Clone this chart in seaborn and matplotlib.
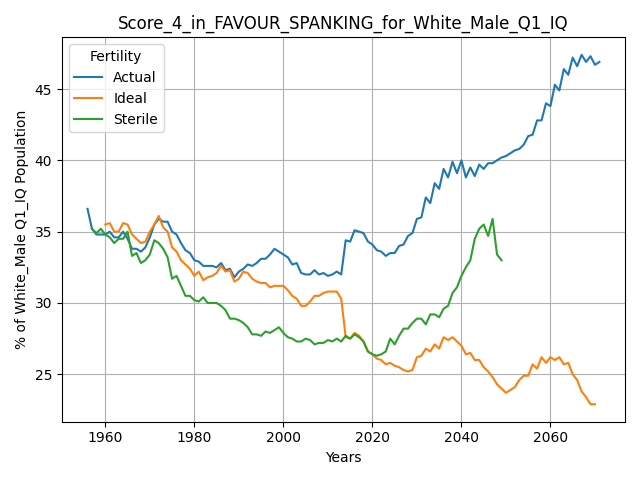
import pandas as pd
import matplotlib
matplotlib.use("Agg")
import matplotlib.pyplot as plt
import seaborn as sns

# Values
actual_start = 1956
actual = [36.6, 35.2, 34.8, 34.8, 34.8, 35.0, 34.6, 34.6, 35.0, 34.5,
          33.8, 33.8, 33.6, 33.9, 34.6, 35.5, 35.9, 35.7, 35.7, 35.0,
          34.8, 34.2, 33.7, 33.5, 33.0, 32.9, 32.6, 32.6, 32.6, 32.5,
          32.8, 32.3, 32.4, 31.8, 32.2, 32.4, 32.7, 32.6, 32.8, 33.1,
          33.1, 33.4, 33.8, 33.6, 33.4, 33.2, 32.7, 32.8, 32.1, 32.0,
          32.0, 32.3, 32.0, 32.1, 31.9, 32.0, 32.2, 32.0, 34.4, 34.3,
          35.1, 35.0, 34.9, 34.3, 34.1, 33.7, 33.6, 33.3, 33.5, 33.5,
          34.0, 34.1, 34.7, 34.9, 35.9, 36.0, 37.4, 37.0, 38.4, 38.0,
          39.4, 38.8, 39.9, 39.1, 40.0, 38.8, 39.5, 38.9, 39.7, 39.4,
          39.8, 39.8, 40.0, 40.2, 40.3, 40.5, 40.7, 40.8, 41.1, 41.7,
          41.8, 42.8, 42.8, 44.0, 43.8, 45.3, 44.9, 46.4, 46.0, 47.2,
          46.6, 47.4, 46.9, 47.3, 46.7, 46.9]

ideal_start = 1960
ideal = [35.5, 35.6, 35.0, 35.0, 35.6, 35.5, 34.8, 34.5, 34.2, 34.3,
         35.0, 35.5, 36.1, 35.3, 35.0, 33.9, 33.6, 33.0, 32.7, 32.4,
         31.9, 32.2, 31.6, 31.8, 31.9, 32.1, 32.6, 32.2, 32.3, 31.5,
         31.7, 32.2, 32.1, 31.7, 31.5, 31.4, 31.4, 31.1, 31.2, 31.2,
         31.2, 30.9, 30.5, 30.3, 29.8, 29.8, 30.1, 30.5, 30.5, 30.7,
         30.8, 30.8, 30.8, 30.3, 27.6, 27.5, 27.9, 27.7, 27.3, 26.6,
         26.4, 26.1, 26.0, 25.7, 25.8, 25.6, 25.5, 25.3, 25.2, 25.3,
         26.2, 26.3, 26.8, 26.6, 27.1, 26.8, 27.6, 27.4, 27.6, 27.3,
         27.0, 26.4, 26.5, 26.0, 26.0, 25.5, 25.2, 24.8, 24.3, 24.0,
         23.7, 23.9, 24.1, 24.6, 24.9, 24.9, 25.7, 25.4, 26.2, 25.8,
         26.2, 26.0, 26.2, 25.7, 25.8, 25.0, 24.6, 23.8, 23.4, 22.9,
         22.9]

sterile_start = 1957
sterile = [35.2, 34.9, 35.2, 34.8, 34.6, 34.2, 34.5, 34.5, 35.0, 33.3,
           33.5, 32.8, 33.0, 33.4, 34.4, 34.2, 33.8, 33.2, 31.7, 31.9,
           31.2, 30.5, 30.5, 30.2, 30.1, 30.4, 30.0, 30.0, 30.0, 29.8,
           29.5, 28.9, 28.9, 28.8, 28.6, 28.3, 27.8, 27.8, 27.7, 28.0,
           27.9, 28.1, 28.3, 27.9, 27.6, 27.5, 27.3, 27.3, 27.5, 27.4,
           27.1, 27.2, 27.2, 27.4, 27.3, 27.5, 27.3, 27.7, 27.5, 27.8,
           27.6, 27.3, 26.6, 26.4, 26.3, 26.4, 26.6, 27.5, 27.1, 27.7,
           28.2, 28.2, 28.6, 28.9, 28.9, 28.5, 29.2, 29.2, 29.0, 29.6,
           29.8, 30.7, 31.1, 31.9, 32.5, 33.0, 34.5, 35.2, 35.5, 34.7,
           35.9, 33.4, 33.0]

frames = []
for name, start, vals in [("Actual", actual_start, actual),
                          ("Ideal", ideal_start, ideal),
                          ("Sterile", sterile_start, sterile)]:
    frames.append(pd.DataFrame({"Years": range(start, start + len(vals)),
                                "value": vals, "Fertility": name}))
df = pd.concat(frames, ignore_index=True)

fig, ax = plt.subplots(figsize=(6.4, 4.8), dpi=100)
sns.lineplot(data=df, x="Years", y="value", hue="Fertility",
             palette=["#1f77b4", "#ff7f0e", "#2ca02c"], ax=ax)
ax.grid(True)
ax.set_title("Score_4_in_FAVOUR_SPANKING_for_White_Male_Q1_IQ")
ax.set_xlabel("Years")
ax.set_ylabel("% of White_Male Q1_IQ Population")
ax.legend(title="Fertility", loc="upper left")
plt.tight_layout()
plt.savefig("out.png")
